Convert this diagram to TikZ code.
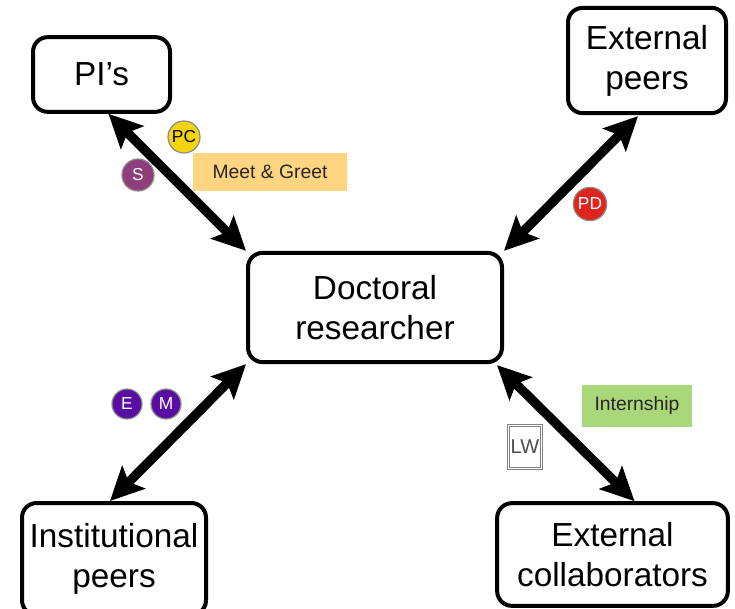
\documentclass[tikz,border=0pt]{standalone}
\usepackage{fontspec}
\setmainfont{Liberation Sans}
\usetikzlibrary{arrows.meta, calc}

\definecolor{pcyellow}{HTML}{F4D40C}
\definecolor{spurple}{HTML}{8F3D7B}
\definecolor{emviolet}{HTML}{5A0DA2}
\definecolor{pdred}{HTML}{E0241E}
\definecolor{meetorange}{HTML}{FFD581}
\definecolor{internGreen}{HTML}{A9D77A}

\begin{document}
\begin{tikzpicture}[
  x=0.75pt, y=-0.75pt,
  font=\fontsize{25}{30}\selectfont,
  actor/.style={draw=black, line width=3pt, rounded corners=11pt, align=center,
                inner sep=0pt, fill=white},
  ar/.style={{Stealth[length=25pt, width=24pt, inset=5pt]}-{Stealth[length=25pt, width=24pt, inset=5pt]},
             line width=7pt},
  badge/.style={circle, draw=black!45, line width=0.9pt, minimum size=24pt, inner sep=0pt,
                font=\fontsize{13}{14}\selectfont},
  tag/.style={inner sep=0pt, font=\fontsize{14.5}{16}\selectfont, text=black!85},
]
\useasboundingbox (0,0) rectangle (735,609);

%% actors
\node[actor, minimum width=102.75pt, minimum height=56pt] (pis) at (101.5,74.5) {PI’s};
\node[actor, minimum width=118.5pt, minimum height=79pt] (extpeers) at (647,60.5) {External\\peers};
\node[actor, minimum width=190.5pt, minimum height=82pt] (dr) at (375,307.5) {Doctoral\\researcher};
\node[actor, minimum width=138pt, minimum height=84pt] (instpeers) at (114,559) {Institutional\\peers};
\node[actor, minimum width=173pt, minimum height=77pt] (extcoll) at (612.5,554.5) {External\\collaborators};

%% links
\draw[ar] ($(pis.south)+(7,0)$) -- (dr.north west);
\draw[ar] ($(extpeers.south)+(-9,1)$) -- (dr.north east);
\draw[ar] ($(instpeers.north)+(-4,0)$) -- (dr.south west);
\draw[ar] ($(extcoll.north)+(22,0)$) -- ($(dr.south east)+(-7,1)$);

%% activities
\node[badge, fill=pcyellow] (pc) at (184,137) {PC};
\node[badge, fill=spurple, text=white] (s) at (138,175) {S};
\node[tag, fill=meetorange, minimum width=115.5pt, minimum height=28.5pt] (meet) at (270,172) {Meet \& Greet};
\node[badge, fill=pdred, text=white, minimum size=25pt] (pd) at (590,204) {PD};
\node[badge, fill=emviolet, text=white, minimum size=22.5pt] (e) at (127,404) {E};
\node[badge, fill=emviolet, text=white, minimum size=22.5pt] (m) at (166,404) {M};
\node[tag, fill=internGreen, minimum width=82.5pt, minimum height=31.5pt] (intern) at (637,406) {Internship};
\node[tag, draw=black!50, double=white, double distance=1.2pt, line width=0.6pt,
      minimum width=25pt, minimum height=32pt, text=black!70, font=\fontsize{15}{16}\selectfont]
      (lw) at (525,447) {LW};
\end{tikzpicture}
\end{document}
